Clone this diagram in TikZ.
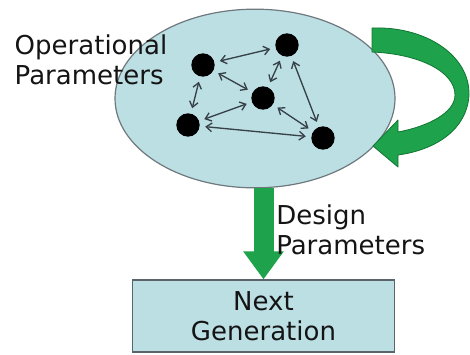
\documentclass[tikz,border=0pt]{standalone}
\usepackage{fontspec}
\setmainfont{DejaVu Sans}
\usetikzlibrary{arrows.meta,shapes.geometric}
\definecolor{ellfill}{RGB}{188,223,228}
\definecolor{ellline}{RGB}{110,120,125}
\definecolor{boxline}{RGB}{90,100,105}
\definecolor{grn}{RGB}{30,162,76}
\definecolor{grndark}{RGB}{16,118,50}
\definecolor{arr}{RGB}{55,65,72}
\definecolor{txt}{RGB}{20,20,20}
\begin{document}
\begin{tikzpicture}[x=0.75pt,y=-0.75pt,
  dot/.style={circle,fill=black,minimum size=17.5pt,inner sep=0},
  link/.style={draw=arr,line width=1pt,{Straight Barb[length=4.2pt,width=6.5pt]}-{Straight Barb[length=4.2pt,width=6.5pt]},shorten <=4pt,shorten >=4pt},
  lbl/.style={font=\fontsize{19.5}{22.5}\selectfont,text=txt,align=left,inner sep=0}]
\useasboundingbox (0,0) rectangle (470,354);
% ellipse
\node[ellipse, draw=ellline, fill=ellfill, line width=0.9pt, minimum width=210pt, minimum height=134pt, inner sep=0] (ell) at (255,98.5) {};
% dots
\node[dot] (A) at (287,45) {};
\node[dot] (B) at (203,65) {};
\node[dot] (C) at (263,98) {};
\node[dot] (D) at (188,125) {};
\node[dot] (E) at (323,138) {};
% links
\draw[link] (B) -- (A);
\draw[link] (B) -- (C);
\draw[link] (B) -- (D);
\draw[link] (A) -- (C);
\draw[link] (A) -- (E);
\draw[link] (D) -- (C);
\draw[link] (C) -- (E);
\draw[link] (D) -- (E);
% curved green arrow
\filldraw[fill=grn, draw=grndark, line width=0.6pt, line join=round]
  (372,28) .. controls (425,26) and (470,55) .. (469,95)
  .. controls (467,130) and (435,150) .. (398,155)
  -- (398,167) -- (373,146) -- (398,120) -- (398,132)
  .. controls (430,126) and (455,112) .. (455,95)
  .. controls (455,72) and (420,54) .. (372,52) -- cycle;
% box
\node[draw=boxline, fill=ellfill, line width=0.9pt, minimum width=197pt, minimum height=54pt, lbl, align=center] (box) at (263.5,316) {Next\\Generation};
% down arrow
\draw[grn, line width=15pt, -{Triangle[length=21pt,width=29pt]}] (box.north |- ell.south) -- (box.north);
% labels
\node[lbl, anchor=center] (op) at (91,60) {Operational\\Parameters};
\node[lbl, anchor=west] (dp) at (276,230) {Design\\Parameters};
\end{tikzpicture}
\end{document}
